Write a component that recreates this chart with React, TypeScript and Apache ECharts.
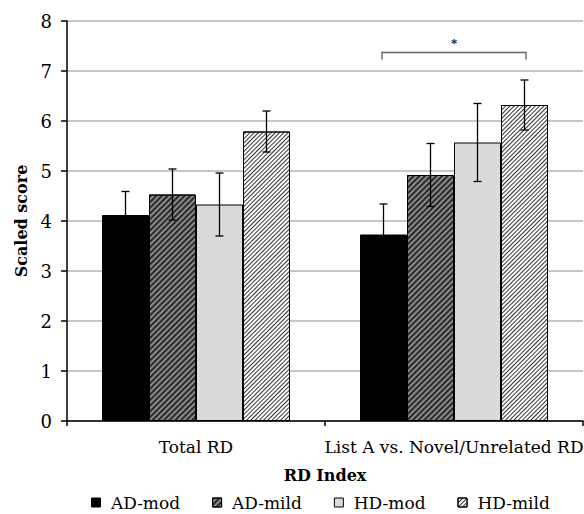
import React, { useEffect, useRef } from 'react';
import * as echarts from 'echarts';

const categories = ['Total RD', 'List A vs. Novel/Unrelated RD'];
const seriesNames = ['AD-mod', 'AD-mild', 'HD-mod', 'HD-mild'];
const adMod = [4.12, 3.73];
const adMild = [4.53, 4.92];
const hdMod = [4.33, 5.57];
const hdMild = [5.79, 6.32];
const adModErr = [0.47, 0.61];
const adMildErr = [0.51, 0.63];
const hdModErr = [0.63, 0.78];
const hdMildErr = [0.41, 0.5];
const yMin = 0;
const yMax = 8;
const yStep = 1;
// significance bracket: category index, first and last group member, level, label
const sigCategory = 1;
const sigFrom = 0;
const sigTo = 3;
const sigLevel = 7.37;
const sigLabel = '*';

const FONT = 'DejaVu Serif';
const BAR_W = 47;

export default function App() {
  const ref = useRef<HTMLDivElement>(null);
  useEffect(() => {
    if (!ref.current) return;
    const chart = echarts.init(ref.current, null, { renderer: 'svg' });
    const values = [adMod, adMild, hdMod, hdMild];
    const errs = [adModErr, adMildErr, hdModErr, hdMildErr];
    const fills = ['#000000', '#8a8a8a', '#dadada', '#ffffff'];
    const decals: any[] = [
      null,
      { symbol: 'rect', symbolSize: 1, rotation: -Math.PI / 4, dashArrayX: [1, 0], dashArrayY: [1.2, 1.8], color: '#2a2a2a' },
      null,
      { symbol: 'rect', symbolSize: 1, rotation: -Math.PI / 4, dashArrayX: [1, 0], dashArrayY: [1, 2], color: '#333' },
    ];
    const errData: number[][] = [];
    values.forEach((vals, s) => {
      vals.forEach((v, c) => errData.push([c, v, errs[s][c], s]));
    });
    const barSeries = values.map((vals, s) => ({
      type: 'bar',
      name: seriesNames[s],
      data: vals,
      barWidth: BAR_W,
      barGap: '0%',
      itemStyle: {
        color: fills[s],
        borderColor: '#000',
        borderWidth: 1,
        ...(decals[s] ? { decal: decals[s] } : {}),
      },
    }));
    const option: any = {
      animation: false,
      textStyle: { fontFamily: FONT, color: '#000' },
      grid: { left: 67, right: 1, top: 21, bottom: 93, containLabel: false, outerBoundsMode: 'none' },
      legend: {
        data: seriesNames,
        left: 91,
        top: 494,
        padding: 0,
        icon: 'rect',
        itemWidth: 9,
        itemHeight: 9,
        itemGap: 32,
        formatter: (n: string) => ' ' + n,
        itemStyle: { borderColor: '#000', borderWidth: 1 },
        textStyle: { fontFamily: FONT, fontSize: 17, color: '#000' },
      },
      xAxis: {
        type: 'category',
        data: categories,
        name: 'RD Index',
        nameLocation: 'middle',
        nameGap: 46,
        nameTextStyle: { fontFamily: FONT, fontSize: 16, fontWeight: 'bold', color: '#000' },
        axisLine: { lineStyle: { color: '#000', width: 1.5 } },
        axisTick: { show: true, length: 5, lineStyle: { color: '#000', width: 1.5 } },
        axisLabel: { fontFamily: FONT, fontSize: 17, color: '#000', margin: 17, interval: 0 },
      },
      yAxis: {
        type: 'value',
        min: yMin,
        max: yMax,
        interval: yStep,
        name: 'Scaled score',
        nameLocation: 'middle',
        nameGap: 38,
        nameRotate: 90,
        nameTextStyle: { fontFamily: FONT, fontSize: 16, fontWeight: 'bold', color: '#000' },
        axisLine: { show: true, lineStyle: { color: '#000', width: 1.5 } },
        axisTick: { show: true, length: 6, lineStyle: { color: '#000', width: 1.5 } },
        axisLabel: { fontFamily: FONT, fontSize: 18, color: '#000', margin: 15 },
        splitLine: { show: true, lineStyle: { color: '#b4b4b4', width: 1.5 } },
      },
      series: [
        ...barSeries,
        {
          type: 'custom',
          name: 'errors',
          z: 10,
          itemStyle: { color: '#000' },
          data: errData,
          encode: { x: 0, y: 1 },
          renderItem: (params: any, api: any) => {
            const c = api.value(0);
            const v = api.value(1);
            const e = api.value(2);
            const s = api.value(3);
            const top = api.coord([c, v + e]);
            const bot = api.coord([c, v - e]);
            const x = top[0] + (s - 1.5) * BAR_W;
            const cap = 4;
            const st = { stroke: '#000', lineWidth: 1.3 };
            return {
              type: 'group',
              children: [
                { type: 'line', shape: { x1: x, y1: top[1], x2: x, y2: bot[1] }, style: st },
                { type: 'line', shape: { x1: x - cap, y1: top[1], x2: x + cap, y2: top[1] }, style: st },
                { type: 'line', shape: { x1: x - cap, y1: bot[1], x2: x + cap, y2: bot[1] }, style: st },
              ],
            };
          },
        },
        {
          type: 'custom',
          name: 'sig',
          z: 10,
          itemStyle: { color: '#000' },
          data: [[sigCategory, sigLevel]],
          encode: { x: 0, y: 1 },
          renderItem: (params: any, api: any) => {
            const p = api.coord([api.value(0), api.value(1)]);
            const x1 = p[0] + (sigFrom - 1.5) * BAR_W - 1.5;
            const x2 = p[0] + (sigTo - 1.5) * BAR_W + 1.5;
            const st = { stroke: '#666', lineWidth: 1.4, fill: 'none' };
            return {
              type: 'group',
              children: [
                { type: 'polyline', shape: { points: [[x1, p[1] + 7], [x1, p[1]], [x2, p[1]], [x2, p[1] + 7]] }, style: st },
                {
                  type: 'text',
                  x: (x1 + x2) / 2,
                  y: p[1] - 4,
                  style: { text: sigLabel, fill: '#000000', fontFamily: FONT, fontSize: 11, fontWeight: 'bold', align: 'center', verticalAlign: 'bottom' },
                },
              ],
            };
          },
        },
      ],
    };
    chart.setOption(option);
    return () => chart.dispose();
  }, []);
  return <div ref={ref} style={{ position: 'absolute', left: 0, top: 0, width: 584, height: 514 }} />;
}
